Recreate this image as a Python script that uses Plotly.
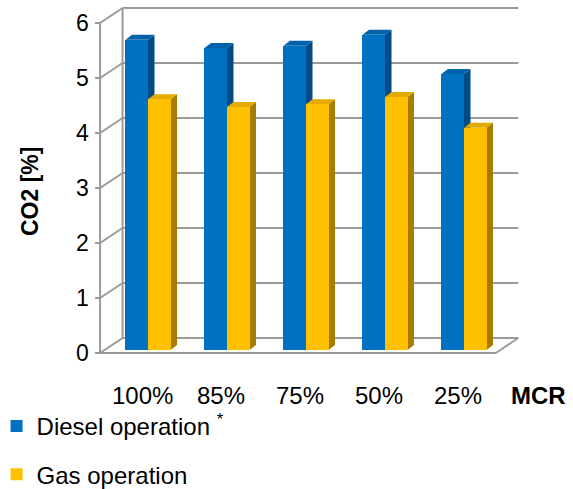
import plotly.graph_objects as go

# ---- data ----
categories = ["100%", "85%", "75%", "50%", "25%"]
diesel = [5.64, 5.49, 5.53, 5.73, 5.02]
gas = [4.56, 4.42, 4.47, 4.60, 4.04]
y_ticks = [0, 1, 2, 3, 4, 5, 6]
series_names = ["Diesel operation <sup>*</sup>", "Gas operation"]

# ---- geometry / style ----
W, H = 573, 489
PX_X = 79.0   # pixels per category step
PX_Y = 55.0   # pixels per value unit
X0_PX, Y0_PX = 148.0, 350.0  # pixel position of category 0 / value 0 on the bar plane

x_range = [-X0_PX / PX_X, (W - X0_PX) / PX_X]
y_range = [(Y0_PX - H) / PX_Y, Y0_PX / PX_Y]


def dx(px):
    return px / PX_X


def dy(px):
    # positive px = up on screen
    return px / PX_Y


BAR_W = 0.285
bar_depth_x, bar_depth_y = dx(6.5), dy(5)
front_dx, front_dy = dx(-4.5), dy(-3)
back_dx, back_dy = dx(18), dy(12)
wall_left, wall_right = -0.55, 4.46

BLUE, BLUE_TOP, BLUE_SIDE = "#0070C0", "#0062AA", "#004A85"
GOLD, GOLD_TOP, GOLD_SIDE = "#FFC000", "#E3AA00", "#A87C00"
GRID = "#9a9a9a"
FONT = "Liberation Sans, Arial, sans-serif"

fig = go.Figure()
shapes = []


def line(x0, y0, x1, y1):
    shapes.append(dict(type="line", xref="x", yref="y", x0=x0, y0=y0, x1=x1, y1=y1,
                       line=dict(color=GRID, width=2), layer="below"))


def poly(points, color):
    path = "M " + " L ".join(f"{x},{y}" for x, y in points) + " Z"
    shapes.append(dict(type="path", xref="x", yref="y", path=path,
                       fillcolor=color, line=dict(width=0), layer="below"))


# back wall gridlines and edges
for v in y_ticks:
    line(wall_left + back_dx, v + back_dy, wall_right + back_dx, v + back_dy)
    line(wall_left + front_dx, v + front_dy, wall_left + back_dx, v + back_dy)
    line(wall_left + front_dx - dx(5), v + front_dy, wall_left + front_dx, v + front_dy)
line(wall_left + back_dx, back_dy, wall_left + back_dx, y_ticks[-1] + back_dy)
line(wall_left + front_dx, front_dy, wall_left + front_dx, y_ticks[-1] + front_dy)
# floor
line(wall_left + front_dx, front_dy, wall_right + front_dx, front_dy)
line(wall_right + front_dx, front_dy, wall_right + back_dx, back_dy)

# side and top faces of each column
for values, offset, top_c, side_c in [(diesel, -BAR_W, BLUE_TOP, BLUE_SIDE),
                                       (gas, 0.0, GOLD_TOP, GOLD_SIDE)]:
    for i, v in enumerate(values):
        xl = i + offset
        xr = xl + BAR_W
        poly([(xr, 0), (xr + bar_depth_x, bar_depth_y),
              (xr + bar_depth_x, v + bar_depth_y), (xr, v)], side_c)
        poly([(xl, v), (xl + bar_depth_x, v + bar_depth_y),
              (xr + bar_depth_x, v + bar_depth_y), (xr, v)], top_c)

# front faces
x_idx = list(range(len(categories)))
fig.add_trace(go.Bar(x=x_idx, y=diesel, width=BAR_W, offset=-BAR_W, name=series_names[0],
                     marker=dict(color=BLUE, line=dict(width=0)), legendgroup="d"))
fig.add_trace(go.Bar(x=x_idx, y=gas, width=BAR_W, offset=0, name=series_names[1],
                     marker=dict(color=GOLD, line=dict(width=0)), legendgroup="g"))

annotations = []
# value axis labels
for v in y_ticks:
    annotations.append(dict(x=wall_left + front_dx - dx(9), y=v + front_dy, xref="x", yref="y",
                            text=str(v), showarrow=False, xanchor="right", yanchor="middle",
                            font=dict(size=23, color="black", family=FONT)))
# category labels
for i, c in enumerate(categories):
    annotations.append(dict(x=i + dx(-6), y=dy(-45), xref="x", yref="y", text=c,
                            showarrow=False, xanchor="center", yanchor="middle",
                            font=dict(size=24, color="black", family=FONT)))
annotations.append(dict(x=wall_right + dx(38), y=dy(-45), xref="x", yref="y", text="<b>MCR</b>",
                        showarrow=False, xanchor="center", yanchor="middle",
                        font=dict(size=24, color="black", family=FONT)))
annotations.append(dict(x=30 / W, y=1 - 192 / H, xref="paper", yref="paper", text="<b>CO2 [%]</b>",
                        textangle=-90, showarrow=False, xanchor="center", yanchor="middle",
                        font=dict(size=23, color="black", family=FONT)))

fig.update_layout(
    width=W, height=H,
    margin=dict(l=0, r=0, t=0, b=0, autoexpand=False),
    paper_bgcolor="white", plot_bgcolor="white",
    xaxis=dict(range=x_range, visible=False, fixedrange=True),
    yaxis=dict(range=y_range, visible=False, fixedrange=True),
    shapes=shapes, annotations=annotations,
    bargap=0,
    showlegend=True,
    legend=dict(x=-0.006, y=1 - 404 / H, xanchor="left", yanchor="top",
                font=dict(size=24, color="black", family=FONT),
                tracegroupgap=14, itemwidth=30, bgcolor="rgba(0,0,0,0)"),
)

fig.write_html("out.html")
